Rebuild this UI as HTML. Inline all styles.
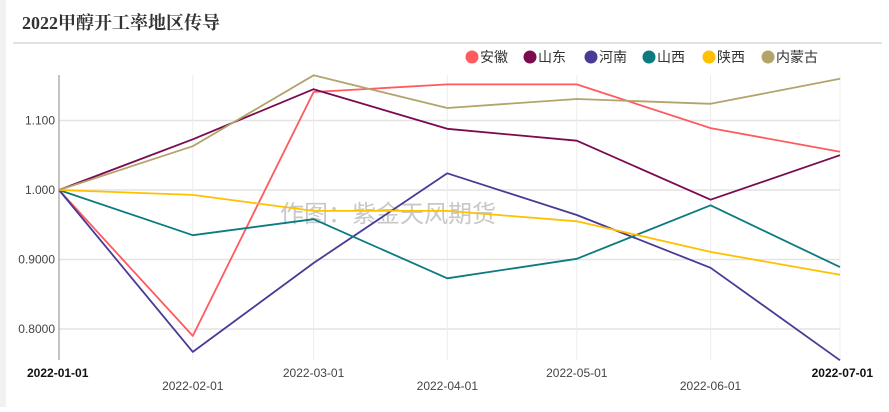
<!DOCTYPE html>
<html><head><meta charset="utf-8">
<style>
html,body{margin:0;padding:0;background:#fff;width:889px;height:407px;overflow:hidden;font-family:"Liberation Sans","Noto Sans CJK SC",sans-serif;}
#wrap{position:absolute;left:0;top:0;width:889px;height:407px;}
.leftbar{position:absolute;left:0;top:0;width:6px;height:407px;background:#f2f2f2;}
</style></head>
<body>
<div id="wrap">
<div class="leftbar"></div>
<svg id="chart" width="889" height="407" xmlns="http://www.w3.org/2000/svg">
<text x="22" y="29" font-family="'Liberation Serif','Noto Serif CJK SC',serif" font-weight="bold" font-size="18" fill="#333">2022甲醇开工率地区传导</text>
<line x1="13" y1="43" x2="882" y2="43" stroke="#d9d9d9" stroke-width="1.5"/>
<g id="grid"></g>
<g id="axes"></g>
<text x="388" y="222" text-anchor="middle" font-size="24" fill="#c8c8c8" font-family="'Liberation Sans','Noto Sans CJK SC',sans-serif">作图：紫金天风期货</text>
<g id="series"></g>
<g id="legend"></g>
</svg>
</div>
<script>
const dateLabels=["2022-01-01","2022-02-01","2022-03-01","2022-04-01","2022-05-01","2022-06-01","2022-07-01"];
const dayOffsets=[0,31,59,90,120,151,181];
const yTicks=[0.8,0.9,1.0,1.1];
const yTickLabels=["0.8000","0.9000","1.000","1.100"];
const seriesNames=["安徽","山东","河南","山西","陕西","内蒙古"];
const seriesColors=["#ff5a5f","#7b0a4f","#4a3a96","#0b7b80","#ffc000","#b3a46b"];
const anhui=[1.0,0.790,1.141,1.152,1.152,1.089,1.055];
const shandong=[1.0,1.073,1.145,1.088,1.071,0.986,1.050];
const henan=[1.0,0.767,0.895,1.024,0.964,0.888,0.755];
const shanxi=[1.0,0.935,0.958,0.873,0.901,0.978,0.889];
const shaanxi=[1.0,0.993,0.970,0.970,0.955,0.911,0.878];
const neimenggu=[1.0,1.063,1.165,1.118,1.131,1.124,1.160];
const seriesValues=[anhui,shandong,henan,shanxi,shaanxi,neimenggu];

const NS="http://www.w3.org/2000/svg";
const X0=59,X1=840,YTOP=75,YBOT=360;
function xScale(d){return X0+(X1-X0)*d/181;}
function yScale(v){return 190-(v-1.0)*695;}
function mk(tag,attrs,parent){const e=document.createElementNS(NS,tag);for(const k in attrs)e.setAttribute(k,attrs[k]);parent.appendChild(e);return e;}
const grid=document.getElementById('grid'),axes=document.getElementById('axes'),ser=document.getElementById('series'),leg=document.getElementById('legend');

yTicks.forEach((t,i)=>{
  const y=yScale(t);
  const l=mk('line',{x1:X0,x2:X1,y1:y,y2:y,stroke:'#e3e3e3','stroke-width':1.5},grid);
  
  
  const tx=mk('text',{x:X0-4,y:y+4,'text-anchor':'end','font-size':12,fill:'#444'},axes);
  tx.textContent=yTickLabels[i];
  
  
});
dayOffsets.forEach((d,i)=>{
  const x=xScale(d);
  if(i>0){
    const l=mk('line',{x1:x,x2:x,y1:YTOP,y2:YBOT,stroke:'#ececec','stroke-width':1},grid);
    
    
  }
  const bold=(i===0||i===dateLabels.length-1);
  const anchor=i===0?'start':(i===dateLabels.length-1?'end':'middle');
  const tx=mk('text',{x:i===0?x-32:(i===dateLabels.length-1?x+33:x),y:i%2===0?377:390,'text-anchor':anchor,'font-size':12,fill:bold?'#111':'#444','font-weight':bold?'bold':'normal'},axes);
  tx.textContent=dateLabels[i];
  
  
});
const ax=mk('line',{x1:X0,x2:X0,y1:YTOP,y2:YBOT,stroke:'#888','stroke-width':1},axes);



seriesValues.forEach((vals,s)=>{
  const pts=vals.map((v,i)=>xScale(dayOffsets[i]).toFixed(1)+','+yScale(v).toFixed(1)).join(' ');
  const p=mk('polyline',{points:pts,fill:'none',stroke:seriesColors[s],'stroke-width':1.8,'stroke-linejoin':'round'},ser);
  
  
});

const legX=[472,530,591,649,709,768];
seriesNames.forEach((n,i)=>{
  const g=mk('g',{},leg);
  
  
  mk('circle',{cx:legX[i],cy:57,r:6.5,fill:seriesColors[i]},g);
  const t=mk('text',{x:legX[i]+8,y:62,'font-size':14,fill:'#333'},g);
  t.textContent=n;
});
</script>
</body></html>
